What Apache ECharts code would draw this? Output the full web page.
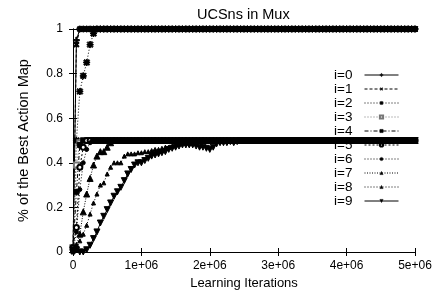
<!DOCTYPE html>
<html>
<head>
<meta charset="utf-8">
<script src="https://cdn.jsdelivr.net/npm/echarts@6/dist/echarts.min.js"></script>
<style>
  html, body { margin: 0; padding: 0; background: #fff; }
  #main { width: 444px; height: 298px; }
</style>
</head>
<body>
<div id="main"></div>
<script>
// sampling step of the runs (x of point k = k * step)
var step = 50000;

// values, early part of each run
var run0 = [0.01, 0.95];
var run1 = [0.02, 0.93];
var run2 = [0.02, 0.5, 0.72, 0.79, 0.85, 0.93, 0.98];
var run3 = [0.02, 0.39, 0.49];
var run4 = [0.01, 0.27, 0.48];
var run5 = [0.02, 0.11, 0.38, 0.47];
var run6 = [0.01, 0.09, 0.28, 0.40, 0.46, 0.49];
var run7 = [0.01, 0.03, 0.08, 0.18, 0.26, 0.33, 0.39, 0.43, 0.45, 0.45, 0.47, 0.49];
var run8 = [0.0, 0.01, 0.05, 0.08, 0.12, 0.17, 0.22, 0.26, 0.30, 0.31, 0.35, 0.38, 0.40, 0.40, 0.40,
            0.43, 0.44, 0.44, 0.44, 0.445, 0.445, 0.45, 0.45, 0.455, 0.46, 0.46, 0.465, 0.47, 0.47,
            0.475, 0.48, 0.485, 0.49, 0.49, 0.495];
var run9 = [0.01, 0.01, 0.0, 0.0, 0.01, 0.03, 0.06, 0.09, 0.13, 0.16, 0.19, 0.22, 0.25, 0.27, 0.29,
            0.32, 0.35, 0.37, 0.39, 0.40, 0.40, 0.41, 0.42, 0.43, 0.435, 0.44, 0.445, 0.45, 0.46,
            0.465, 0.47, 0.475, 0.48, 0.48, 0.48, 0.48, 0.475, 0.47, 0.47, 0.465, 0.46, 0.47, 0.485,
            0.49, 0.49, 0.49, 0.495, 0.49, 0.495];

// level every run settles on (101 samples, 0 .. 5e6)
var plateauHigh = [
  1,1,1,1,1,1,1,1,1,1,1,1,1,1,1,1,1,1,1,1,
  1,1,1,1,1,1,1,1,1,1,1,1,1,1,1,1,1,1,1,1,
  1,1,1,1,1,1,1,1,1,1,1,1,1,1,1,1,1,1,1,1,
  1,1,1,1,1,1,1,1,1,1,1,1,1,1,1,1,1,1,1,1,
  1,1,1,1,1,1,1,1,1,1,1,1,1,1,1,1,1,1,1,1,
  1
];
var plateauMid = [
  0.5,0.5,0.5,0.5,0.5,0.5,0.5,0.5,0.5,0.5,0.5,0.5,0.5,0.5,0.5,0.5,0.5,0.5,0.5,0.5,
  0.5,0.5,0.5,0.5,0.5,0.5,0.5,0.5,0.5,0.5,0.5,0.5,0.5,0.5,0.5,0.5,0.5,0.5,0.5,0.5,
  0.5,0.5,0.5,0.5,0.5,0.5,0.5,0.5,0.5,0.5,0.5,0.5,0.5,0.5,0.5,0.5,0.5,0.5,0.5,0.5,
  0.5,0.5,0.5,0.5,0.5,0.5,0.5,0.5,0.5,0.5,0.5,0.5,0.5,0.5,0.5,0.5,0.5,0.5,0.5,0.5,
  0.5,0.5,0.5,0.5,0.5,0.5,0.5,0.5,0.5,0.5,0.5,0.5,0.5,0.5,0.5,0.5,0.5,0.5,0.5,0.5,
  0.5
];

var seriesNames = ['i=0', 'i=1', 'i=2', 'i=3', 'i=4', 'i=5', 'i=6', 'i=7', 'i=8', 'i=9'];
var xTickLabels = ['0', '1e+06', '2e+06', '3e+06', '4e+06', '5e+06'];
var yTickLabels = ['0', '0.2', '0.4', '0.6', '0.8', '1'];

var PLUS = 'path://M4,0H6V4H10V6H6V10H4V6H0V4H4Z';
var STAR = 'path://M4,0H6V4H10V6H6V10H4V6H0V4H4Z M1.5,0.1L5,3.6L8.5,0.1L9.9,1.5L6.4,5L9.9,8.5L8.5,9.9L5,6.4L1.5,9.9L0.1,8.5L3.6,5L0.1,1.5Z';

// gnuplot-ish point / dash types
var looks = [
  {head: run0, tail: plateauHigh, symbol: PLUS, size: 6, rot: 0, dash: 'solid', color: '#000'},
  {head: run1, tail: plateauHigh, symbol: PLUS, size: 6, rot: 45, dash: [3, 2], color: '#000'},
  {head: run2, tail: plateauHigh, symbol: STAR, size: 6, rot: 0, dash: [1, 2], color: '#000'},
  {head: run3, tail: plateauMid, symbol: 'emptyRect', size: 5, rot: 0, dash: [1, 2], color: '#777'},
  {head: run4, tail: plateauMid, symbol: 'rect', size: 5, rot: 0, dash: [4, 2, 1, 2], color: '#000'},
  {head: run5, tail: plateauMid, symbol: 'emptyCircle', size: 5, rot: 0, dash: [2, 2], color: '#000'},
  {head: run6, tail: plateauMid, symbol: 'circle', size: 4, rot: 0, dash: [1, 2], color: '#000'},
  {head: run7, tail: plateauMid, symbol: 'triangle', size: 6, rot: 0, dash: [1, 1.5], color: '#000'},
  {head: run8, tail: plateauMid, symbol: 'triangle', size: 4, rot: 0, dash: [1, 2], color: '#000'},
  {head: run9, tail: plateauMid, symbol: 'triangle', size: 6, rot: 180, dash: 'solid', color: '#000'}
];

function buildData(head, tail) {
  var vals = head.concat(tail.slice(head.length));
  var pts = [];
  for (var k = 0; k < vals.length; k++) {
    pts.push([k * step, vals[k]]);
  }
  return pts;
}

var series = looks.map(function (l, i) {
  return {
    name: seriesNames[i],
    type: 'line',
    data: buildData(l.head, l.tail),
    symbol: l.symbol,
    symbolSize: l.size,
    symbolRotate: l.rot,
    showAllSymbol: true,
    z: 3,
    lineStyle: {color: l.color, width: 1, type: l.dash},
    itemStyle: {color: l.color, borderColor: l.color, borderWidth: 1}
  };
});

var font = 'Liberation Sans, Arial, Helvetica, sans-serif';

function valAxis(extra) {
  var base = {
    type: 'value',
    axisLine: {show: true, lineStyle: {color: '#000', width: 1}},
    axisTick: {show: true, inside: true, length: 4, lineStyle: {color: '#000'}},
    splitLine: {show: false}
  };
  return Object.assign(base, extra);
}

var myChart = echarts.init(document.getElementById('main'));
var option = {
  animation: false,
  backgroundColor: '#fff',
  title: {
    text: 'UCSns in Mux',
    left: 192,
    top: 2,
    textStyle: {fontFamily: font, fontSize: 14.5, fontWeight: 'normal', color: '#000'}
  },
  legend: {
    data: seriesNames,
    orient: 'vertical',
    right: 40,
    top: 63,
    align: 'right',
    itemWidth: 34,
    itemHeight: 4,
    itemGap: 0,
    z: 1,
    lineStyle: {width: 1},
    itemStyle: {borderWidth: 0.5},
    textStyle: {fontFamily: font, fontSize: 13.5, color: '#000', lineHeight: 13.4, padding: [0, 7, 0, 0]}
  },
  grid: {left: 73, right: 29, top: 29, bottom: 46},
  xAxis: [
    valAxis({
      min: 0, max: 5000000, interval: 1000000,
      name: 'Learning Iterations',
      nameLocation: 'middle',
      nameGap: 18,
      nameTextStyle: {fontFamily: font, fontSize: 13, color: '#000'},
      axisLabel: {
        fontFamily: font, fontSize: 12, color: '#000', margin: 8,
        formatter: function (v) { return xTickLabels[Math.round(v / 1000000)]; }
      }
    }),
    valAxis({min: 0, max: 5000000, interval: 1000000, position: 'top', axisLabel: {show: false}})
  ],
  yAxis: [
    valAxis({
      min: 0, max: 1, interval: 0.2,
      name: '% of the Best Action Map',
      nameLocation: 'middle',
      nameGap: 42,
      nameTextStyle: {fontFamily: font, fontSize: 14.5, color: '#000'},
      axisLabel: {
        fontFamily: font, fontSize: 12, color: '#000', margin: 10,
        formatter: function (v) { return yTickLabels[Math.round(v * 5)]; }
      }
    }),
    valAxis({min: 0, max: 1, interval: 0.2, position: 'right', axisLabel: {show: false}})
  ],
  series: series
};
myChart.setOption(option, true);
</script>
</body>
</html>
